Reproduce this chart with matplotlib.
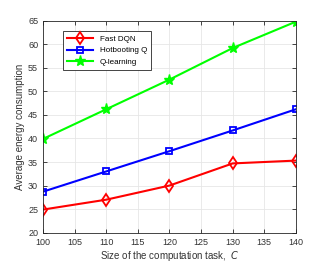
import numpy as np
import matplotlib.pyplot as plt

sizes = [100, 110, 120, 130, 140]
fast_dqn = [24.9, 27.0, 30.0, 34.7, 35.3]
hotbooting = [28.7, 33.0, 37.3, 41.7, 46.2]
qlearning = [39.9, 46.2, 52.5, 59.2, 64.8]

plt.rcParams['font.family'] = ['Liberation Sans', 'DejaVu Sans']
fig = plt.figure(figsize=(3.27, 2.62), dpi=100)
ax = fig.add_axes([0.1315, 0.112, 0.7735, 0.809])

ax.plot(sizes, fast_dqn, color='red', lw=1.5, marker='d', ms=6, mfc='none', mew=1.3, label='Fast DQN')
ax.plot(sizes, hotbooting, color='blue', lw=1.5, marker='s', ms=4, mfc='none', mew=1.3, label='Hotbooting Q')
ax.plot(sizes, qlearning, color='#00ff00', lw=1.5, marker='*', ms=8, mew=1.0, label='Q-learning')

ax.set_xlim(100, 140)
ax.set_ylim(20, 65)
ax.set_xticks(np.arange(100, 141, 5))
ax.set_yticks(np.arange(20, 66, 5))
ax.tick_params(direction='in', labelsize=6.5, length=3, width=0.6, top=True, right=True,
               color='#262626', labelcolor='#333333')
ax.grid(True, color='#e6e6e6', lw=0.6)
ax.set_axisbelow(True)
for s in ax.spines.values():
    s.set_linewidth(0.6)
    s.set_color('#262626')

ax.set_xlabel('Size of the computation task,  $C$', fontsize=7, labelpad=2, color='#333333')
ax.set_ylabel('Average energy consumption', fontsize=7, labelpad=2, color='#333333')

leg = ax.legend(loc='upper left', bbox_to_anchor=(0.065, 0.97), fontsize=5.8, fancybox=False,
                edgecolor='#262626', framealpha=1, handlelength=3.2, borderpad=0.5, labelspacing=0.5)
leg.get_frame().set_linewidth(0.6)

fig.savefig('out.png', dpi=100)
